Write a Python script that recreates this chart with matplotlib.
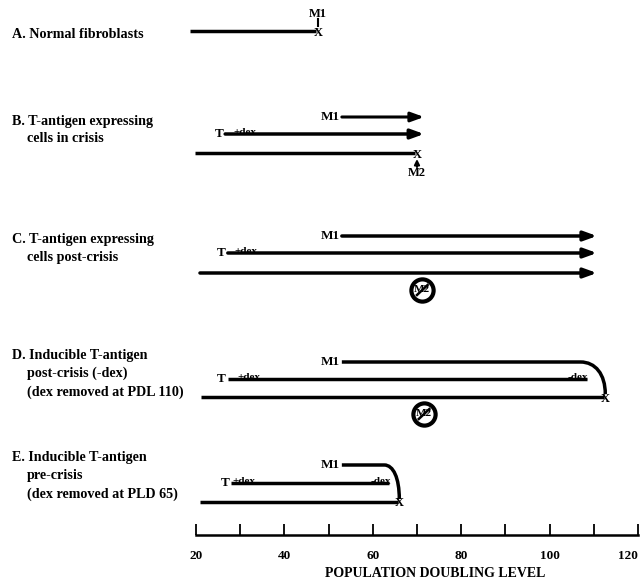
import matplotlib
matplotlib.use('Agg')
import matplotlib.pyplot as plt
from matplotlib.path import Path
from matplotlib.patches import PathPatch
from matplotlib.transforms import blended_transform_factory

plt.rcParams['font.family'] = ['Liberation Serif', 'DejaVu Serif']
plt.rcParams['font.weight'] = 'bold'

# --- data (population doubling levels) ---
pdl_major = [20, 40, 60, 80, 100, 120]
pdl_minor = [30, 50, 70, 90, 110]
tick_labels = ['20', '40', '60', '80', '100', '120']

panel_text = [
    ['A. Normal fibroblasts'],
    ['B. T-antigen expressing', 'cells in crisis'],
    ['C. T-antigen expressing', 'cells post-crisis'],
    ['D. Inducible T-antigen', 'post-crisis (-dex)', '(dex removed at PDL 110)'],
    ['E. Inducible T-antigen', 'pre-crisis', '(dex removed at PLD 65)'],
]

a_line = [18.6, 47.6]            # start, senescence (M1)
b_m1 = [53.0, 71.6]
b_t = [26.6, 71.6]
b_line = [19.8, 70.0]            # ends at crisis (M2)
c_m1 = [53.0, 110.7]
c_t = [27.2, 110.7]
c_line = [20.9, 110.7]
c_m2 = 71.2
d_m1 = [53.0, 107.0, 112.6]      # start, bend, end at X
d_t = [27.2, 108.5]
d_line = [21.2, 112.6]
d_m2 = 71.6
e_m1 = [53.0, 62.6, 66.0]
e_t = [28.0, 63.6]
e_line = [21.0, 66.0]

dex_on = [31.0, 31.4, 32.0, 30.8]   # B, C, D, E
dex_off = [106.3, 61.8]             # D, E

# --- layout (pixel rows of the 644x584 image) ---
text_rows = [[34], [121, 139], [239, 258], [355, 373, 392], [457, 475, 494]]
rows_b = [117, 134, 153]
rows_c = [236, 253, 273, 290]
rows_d = [362, 379, 397, 414]
rows_e = [465, 483, 502]
rows_a = 31

LW = 2.5
fig = plt.figure(figsize=(6.44, 5.84), dpi=100)
ax = fig.add_axes([0, 49 / 584, 1, 535 / 584])
ax.set_xlim(-24.34, 121.36)
ax.set_ylim(535, 0)
tx = blended_transform_factory(ax.transAxes, ax.transData)

for lines, ys in zip(panel_text, text_rows):
    for i, (s, y) in enumerate(zip(lines, ys)):
        x = 12 / 644 if i == 0 else 27 / 644
        ax.text(x, y, s, transform=tx, fontsize=10.2, fontweight='bold', va='center', ha='left')


def hline(x0, x1, y, lw=LW):
    ax.plot([x0, x1], [y, y], color='black', lw=lw, solid_capstyle='butt')


def arrow(x0, x1, y, lw=LW):
    ax.annotate('', xy=(x1, y), xytext=(x0, y),
                arrowprops=dict(arrowstyle='-|>,head_length=0.55,head_width=0.2',
                                color='black', lw=lw, shrinkA=0, shrinkB=0,
                                mutation_scale=14))


def label_left(x, y, s, fs=9.5):
    ax.text(x - 0.4, y, s, fontsize=fs, fontweight='bold', ha='right', va='center')


def xmark(x, y):
    ax.text(x, y + 1.5, 'X', fontsize=9, fontweight='bold', ha='center', va='center')


def dex(x, y, s):
    ax.text(x, y + 3, s, fontsize=8, fontweight='bold', ha='center', va='bottom')


def bend(pts, y0, y1):
    x0, xb, xe = pts
    verts = [(x0, y0), (xb, y0), (xb + 0.6 * (xe - xb), y0), (xe, y0 + 0.35 * (y1 - y0)), (xe, y1 - 3)]
    codes = [Path.MOVETO, Path.LINETO, Path.CURVE4, Path.CURVE4, Path.CURVE4]
    ax.add_patch(PathPatch(Path(verts, codes), fill=False, lw=LW, color='black'))


def m2_blocked(x, y):
    ax.plot([x], [y], marker='o', ms=16, mfc='none', mec='black', mew=3)
    ax.text(x, y, 'M2', fontsize=8, fontweight='bold', ha='center', va='center')
    ax.plot([x - 1.2, x + 1.2], [y + 5, y - 5], color='black', lw=1.8)


# A
hline(a_line[0], a_line[1] - 0.4, rows_a)
xmark(a_line[1], rows_a)
ax.text(a_line[1], 14, 'M1', fontsize=9, fontweight='bold', ha='center', va='center')
ax.plot([a_line[1], a_line[1]], [19, 26], color='black', lw=1.5)

# B
label_left(b_m1[0], rows_b[0], 'M1')
arrow(b_m1[0], b_m1[1], rows_b[0], lw=2.2)
label_left(b_t[0], rows_b[1], 'T')
arrow(b_t[0], b_t[1], rows_b[1])
dex(dex_on[0], rows_b[1], '+dex')
hline(b_line[0], b_line[1] - 0.4, rows_b[2])
xmark(b_line[1], rows_b[2])
ax.annotate('', xy=(b_line[1], rows_b[2] + 6), xytext=(b_line[1], rows_b[2] + 14),
            arrowprops=dict(arrowstyle='-|>,head_length=0.3,head_width=0.15', color='black',
                            lw=1.5, shrinkA=0, shrinkB=0, mutation_scale=10))
ax.text(b_line[1], 173, 'M2', fontsize=9, fontweight='bold', ha='center', va='center')

# C
label_left(c_m1[0], rows_c[0], 'M1')
arrow(c_m1[0], c_m1[1], rows_c[0])
label_left(c_t[0], rows_c[1], 'T')
arrow(c_t[0], c_t[1], rows_c[1])
dex(dex_on[1], rows_c[1], '+dex')
arrow(c_line[0], c_line[1], rows_c[2])
m2_blocked(c_m2, rows_c[3])

# D
label_left(d_m1[0], rows_d[0], 'M1')
bend(d_m1, rows_d[0], rows_d[2])
label_left(d_t[0], rows_d[1], 'T')
hline(d_t[0], d_t[1], rows_d[1])
dex(dex_on[2], rows_d[1], '+dex')
dex(dex_off[0], rows_d[1], '-dex')
hline(d_line[0], d_line[1] - 0.4, rows_d[2])
xmark(d_line[1], rows_d[2])
m2_blocked(d_m2, rows_d[3])

# E
label_left(e_m1[0], rows_e[0], 'M1')
bend(e_m1, rows_e[0], rows_e[2])
label_left(e_t[0], rows_e[1], 'T')
hline(e_t[0], e_t[1], rows_e[1])
dex(dex_on[3], rows_e[1], '+dex')
dex(dex_off[1], rows_e[1], '-dex')
hline(e_line[0], e_line[1] - 0.4, rows_e[2])
xmark(e_line[1], rows_e[2])

# axis
for side in ['top', 'left', 'right']:
    ax.spines[side].set_visible(False)
ax.spines['bottom'].set_bounds(20, 120)
ax.spines['bottom'].set_linewidth(1.8)
ax.set_yticks([])
ax.set_xticks(pdl_major)
ax.set_xticklabels(tick_labels, fontsize=9.5, fontweight='bold')
ax.get_xticklabels()[-1].set_ha('right')
ax.set_xticks(pdl_minor, minor=True)
ax.tick_params(axis='x', which='both', direction='in', length=8, width=1.3, pad=11)
ax.set_xlabel('POPULATION DOUBLING LEVEL', fontsize=10, fontweight='bold')
ax.xaxis.set_label_coords(435 / 644, -32 / 535)
ax.patch.set_visible(False)

fig.savefig('out.png', dpi=100)
